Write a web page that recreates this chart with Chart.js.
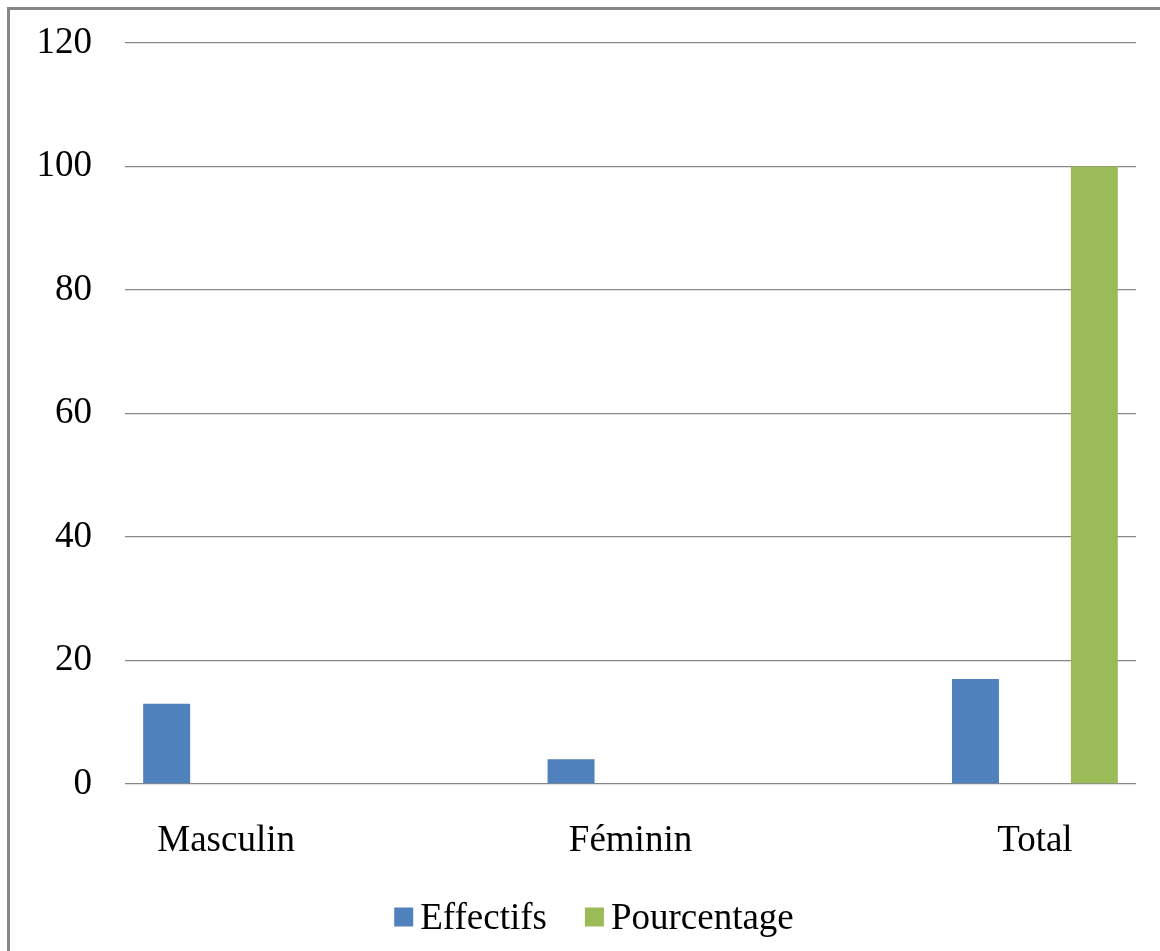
<!DOCTYPE html>
<html lang="fr">
<head>
<meta charset="utf-8">
<title>Effectifs et pourcentage par sexe</title>
<script src="https://cdn.jsdelivr.net/npm/chart.js@4.4.1/dist/chart.umd.min.js"></script>
<style>
  html, body { margin: 0; padding: 0; background: #ffffff; overflow: hidden; }
  #wrap { position: relative; width: 1160px; height: 951px; }
  #frame {
    position: absolute; left: 7px; top: 7px; width: 1300px; height: 1100px;
    border: 3px solid #878787; box-sizing: border-box; pointer-events: none;
  }
  canvas { position: absolute; left: 0; top: 0; }
</style>
</head>
<body>
<div id="wrap">
  <canvas id="chart" width="1160" height="951"></canvas>
  <div id="frame"></div>
</div>
<script>
// Catégories et séries
const categories = ['Masculin', 'Féminin', 'Total'];
const effectifs = [13, 4, 17];
const pourcentage = [null, null, 100];
const yTicks = [0, 20, 40, 60, 80, 100, 120];

const seriesNames = ['Effectifs', 'Pourcentage'];
const seriesColors = ['#4f81bd', '#9bbb59'];

const FONT = '"Liberation Serif", "Times New Roman", serif';
const FONT_SIZE = 37;

const toPoints = arr => arr.map((v, i) => ({ x: i, y: v }));

// Légende dessinée sous le graphique
const bottomLegend = {
  id: 'bottomLegend',
  afterDraw(chart) {
    const ctx = chart.ctx;
    const items = chart.data.datasets.map(d => ({ text: d.label, color: d.backgroundColor }));
    const box = 19, gap = 7, spacing = 38, cx = 594, cy = 917;
    ctx.save();
    ctx.font = FONT_SIZE + 'px ' + FONT;
    ctx.textBaseline = 'middle';
    ctx.textAlign = 'left';
    const widths = items.map(it => box + gap + ctx.measureText(it.text).width);
    const total = widths.reduce((a, b) => a + b, 0) + spacing * (items.length - 1);
    let x = cx - total / 2;
    items.forEach((it, i) => {
      ctx.fillStyle = it.color;
      ctx.fillRect(x, cy - box / 2, box, box);
      ctx.fillStyle = '#000000';
      ctx.fillText(it.text, x + box + gap, cy + 2);
      x += widths[i] + spacing;
    });
    ctx.restore();
  }
};

new Chart(document.getElementById('chart'), {
  type: 'bar',
  data: {
    datasets: [
      { label: seriesNames[0], data: toPoints(effectifs), backgroundColor: seriesColors[0] },
      { label: seriesNames[1], data: toPoints(pourcentage), backgroundColor: seriesColors[1] }
    ]
  },
  options: {
    responsive: false,
    animation: false,
    layout: { padding: { left: 0, right: 24, top: 43, bottom: 100 } },
    categoryPercentage: 0.588,
    barPercentage: 0.395,
    plugins: {
      legend: { display: false },
      tooltip: { enabled: false }
    },
    scales: {
      x: {
        type: 'linear',
        offset: false,
        min: -0.25,
        max: 2.25,
        afterBuildTicks: s => { s.ticks = categories.map((_, i) => ({ value: i })); },
        afterFit: s => { s.height = 67; },
        grid: { display: false, drawTicks: false },
        border: { display: false },
        ticks: {
          padding: 35,
          color: '#000000',
          font: { family: FONT, size: FONT_SIZE },
          callback: v => categories[v]
        }
      },
      y: {
        min: 0,
        max: 120,
        afterBuildTicks: s => { s.ticks = yTicks.map(v => ({ value: v })); },
        afterFit: s => { s.width = 125; s.paddingTop = 0; s.paddingBottom = 0; },
        grid: { color: '#888888', lineWidth: 1.3, drawTicks: false },
        border: { display: false },
        ticks: {
          padding: 33,
          color: '#000000',
          font: { family: FONT, size: FONT_SIZE }
        }
      }
    }
  },
  plugins: [bottomLegend]
});
</script>
</body>
</html>
